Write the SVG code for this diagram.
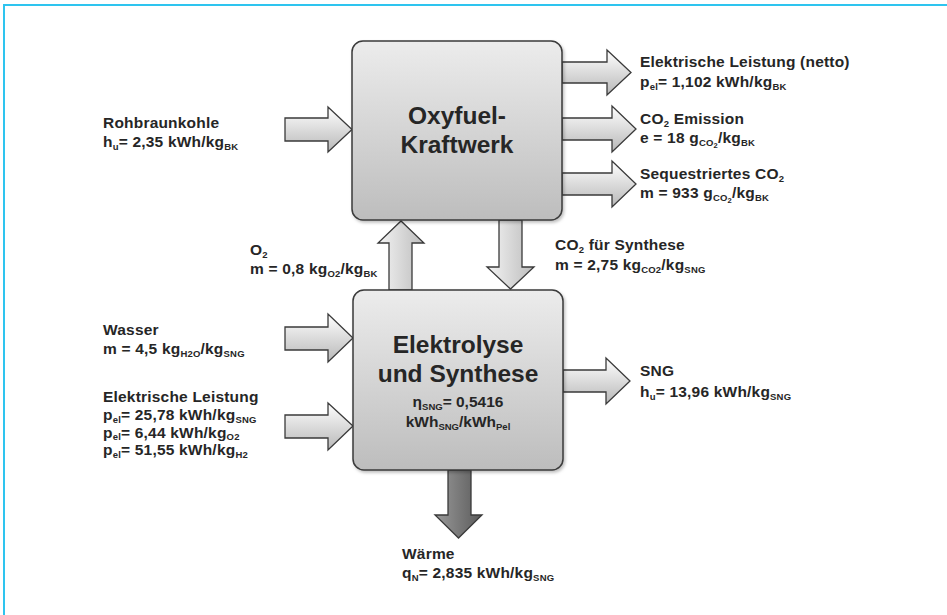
<svg xmlns="http://www.w3.org/2000/svg" width="947" height="615" viewBox="0 0 947 615">
<defs>
<linearGradient id="gBox" x1="0" y1="0" x2="0" y2="1">
<stop offset="0" stop-color="#ececec"/><stop offset="1" stop-color="#bdbdbd"/>
</linearGradient>
<linearGradient id="gH" x1="0" y1="0" x2="0" y2="1">
<stop offset="0" stop-color="#ffffff"/><stop offset="1" stop-color="#b8b8b8"/>
</linearGradient>
<linearGradient id="gV" x1="0" y1="0" x2="1" y2="0">
<stop offset="0" stop-color="#f4f4f4"/><stop offset="1" stop-color="#bcbcbc"/>
</linearGradient>
<linearGradient id="gD" x1="0" y1="0" x2="1" y2="0">
<stop offset="0" stop-color="#9a9a9a"/><stop offset="1" stop-color="#5a5a5a"/>
</linearGradient>
<filter id="sh" x="-10%" y="-10%" width="120%" height="120%">
<feDropShadow dx="1.5" dy="2" stdDeviation="1.5" flood-color="#000" flood-opacity="0.25"/>
</filter>
</defs>
<style>
.box{fill:url(#gBox);stroke:#3a3a3a;stroke-width:1.5;filter:url(#sh)}
.ah{fill:url(#gH);stroke:#3a3a3a;stroke-width:1.3;stroke-linejoin:miter}
.av{fill:url(#gV);stroke:#3a3a3a;stroke-width:1.3}
.ad{fill:url(#gD);stroke:#3a3a3a;stroke-width:1.3}
text{font-family:"Liberation Sans",Arial,sans-serif;font-weight:bold;fill:#262626}
.t{font-size:15.5px;letter-spacing:0.2px}
.s{font-size:9.5px}
.ss{font-size:7.5px}
.big{font-size:24.5px;text-anchor:middle}
.mid{font-size:15.5px;text-anchor:middle}
</style>
<rect width="947" height="615" fill="#ffffff"/>
<path d="M4 615 V5 H947" fill="none" stroke="#2ec4ef" stroke-width="2"/>

<g id="connectors">
<polygon class="ah" points="285,118 328,118 328,107 352,129.5 328,152 328,141 285,141"/>
<polygon class="ah" points="562,62 607,62 607,50 631,72.5 607,95 607,83 562,83"/>
<polygon class="ah" points="562,118 612,118 612,106 636,129 612,152 612,140 562,140"/>
<polygon class="ah" points="562,173 612,173 612,161 636,184 612,207 612,195 562,195"/>
<polygon class="av" points="389,290 389,243 378,243 401,221 424,243 412,243 412,290"/>
<polygon class="av" points="499,220 522,220 522,267 534,267 510.5,289 487,267 499,267"/>
<polygon class="ah" points="285,327 328,327 328,314 353,338 328,362 328,350 285,350"/>
<polygon class="ah" points="285,415 328,415 328,403 353,426 328,450 328,438 285,438"/>
<polygon class="ah" points="563,370 606,370 606,358 630,381 606,404 606,392 563,392"/>
<polygon class="ad" points="448,470 471,470 471,515 482,515 458.5,538 435,515 448,515"/>
</g>

<g id="oxyfuel">
<rect class="box" x="352" y="41" width="210" height="179" rx="11"/>
<text class="big" x="457" y="124">Oxyfuel-</text>
<text class="big" x="457" y="153">Kraftwerk</text>
</g>

<g id="elektrolyse">
<rect class="box" x="353" y="290" width="210" height="180" rx="11"/>
<text class="big" x="458" y="353">Elektrolyse</text>
<text class="big" x="458" y="382">und Synthese</text>
<text class="mid" x="458" y="407">η<tspan class="s" dy="2.5">SNG</tspan><tspan dy="-2.5">= 0,5416</tspan></text>
<text class="mid" x="458" y="427">kWh<tspan class="s" dy="2.5">SNG</tspan><tspan dy="-2.5">/kWh</tspan><tspan class="s" dy="2.5">Pel</tspan></text>
</g>

<g id="rohbraunkohle">
<text class="t" x="103" y="128">Rohbraunkohle</text>
<text class="t" x="103" y="147">h<tspan class="s" dy="2.5">u</tspan><tspan dy="-2.5">= 2,35 kWh/kg</tspan><tspan class="s" dy="2.5">BK</tspan></text>
</g>

<g id="el-netto">
<text class="t" x="640" y="67">Elektrische Leistung (netto)</text>
<text class="t" x="640" y="87">p<tspan class="s" dy="2.5">el</tspan><tspan dy="-2.5">= 1,102 kWh/kg</tspan><tspan class="s" dy="2.5">BK</tspan></text>
</g>

<g id="co2-emission">
<text class="t" x="640" y="124">CO<tspan class="s" dy="2.5">2</tspan><tspan dy="-2.5"> Emission</tspan></text>
<text class="t" x="640" y="143">e = 18 g<tspan class="s" dy="2.5">CO</tspan><tspan class="ss" dy="2">2</tspan><tspan dy="-4.5">/kg</tspan><tspan class="s" dy="2.5">BK</tspan></text>
</g>

<g id="co2-seq">
<text class="t" x="640" y="179">Sequestriertes CO<tspan class="s" dy="2.5">2</tspan></text>
<text class="t" x="640" y="198">m = 933 g<tspan class="s" dy="2.5">CO</tspan><tspan class="ss" dy="2">2</tspan><tspan dy="-4.5">/kg</tspan><tspan class="s" dy="2.5">BK</tspan></text>
</g>

<g id="o2">
<text class="t" x="250" y="255">O<tspan class="s" dy="2.5">2</tspan></text>
<text class="t" x="250" y="274">m = 0,8 kg<tspan class="s" dy="2.5">O2</tspan><tspan dy="-2.5">/kg</tspan><tspan class="s" dy="2.5">BK</tspan></text>
</g>

<g id="co2-synthese">
<text class="t" x="555" y="250">CO<tspan class="s" dy="2.5">2</tspan><tspan dy="-2.5"> für Synthese</tspan></text>
<text class="t" x="555" y="270">m = 2,75 kg<tspan class="s" dy="2.5">CO2</tspan><tspan dy="-2.5">/kg</tspan><tspan class="s" dy="2.5">SNG</tspan></text>
</g>

<g id="wasser">
<text class="t" x="103" y="335">Wasser</text>
<text class="t" x="103" y="354">m = 4,5 kg<tspan class="s" dy="2.5">H2O</tspan><tspan dy="-2.5">/kg</tspan><tspan class="s" dy="2.5">SNG</tspan></text>
</g>

<g id="el-leistung">
<text class="t" x="103" y="402">Elektrische Leistung</text>
<text class="t" x="103" y="420">p<tspan class="s" dy="2.5">el</tspan><tspan dy="-2.5">= 25,78 kWh/kg</tspan><tspan class="s" dy="2.5">SNG</tspan></text>
<text class="t" x="103" y="437.5">p<tspan class="s" dy="2.5">el</tspan><tspan dy="-2.5">= 6,44 kWh/kg</tspan><tspan class="s" dy="2.5">O2</tspan></text>
<text class="t" x="103" y="455">p<tspan class="s" dy="2.5">el</tspan><tspan dy="-2.5">= 51,55 kWh/kg</tspan><tspan class="s" dy="2.5">H2</tspan></text>
</g>

<g id="sng">
<text class="t" x="640" y="376">SNG</text>
<text class="t" x="640" y="397">h<tspan class="s" dy="2.5">u</tspan><tspan dy="-2.5">= 13,96 kWh/kg</tspan><tspan class="s" dy="2.5">SNG</tspan></text>
</g>

<g id="waerme">
<text class="t" x="402" y="559">Wärme</text>
<text class="t" x="402" y="578">q<tspan class="s" dy="2.5">N</tspan><tspan dy="-2.5">= 2,835 kWh/kg</tspan><tspan class="s" dy="2.5">SNG</tspan></text>
</g>
</svg>
